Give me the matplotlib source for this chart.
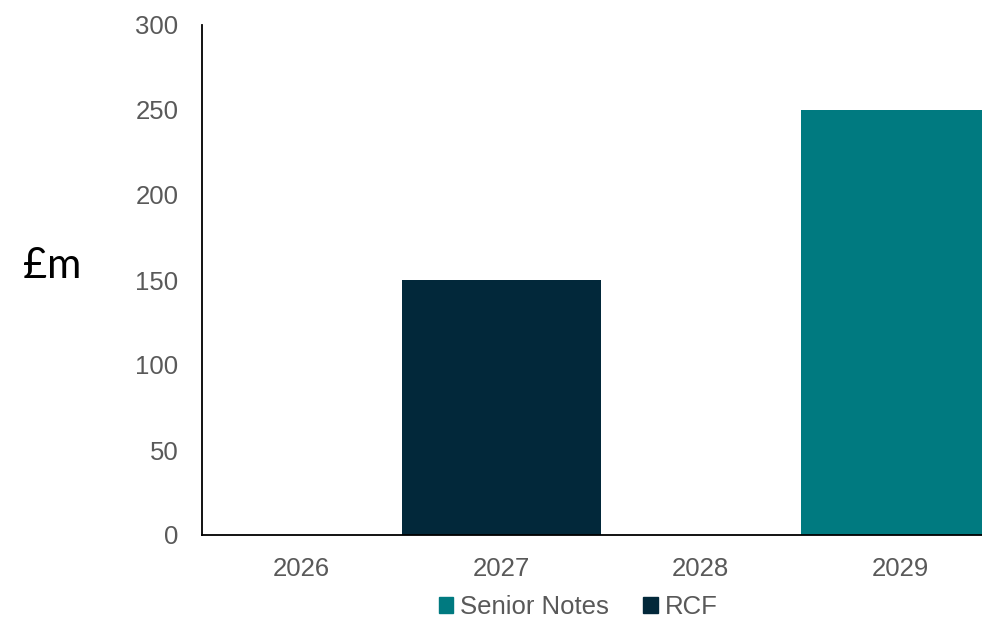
import matplotlib

matplotlib.use("Agg")
import matplotlib.pyplot as plt  # noqa: E402
from matplotlib.patches import Patch  # noqa: E402

years = ["2026", "2027", "2028", "2029"]
senior_notes = [0, 0, 0, 250]
rcf = [0, 150, 0, 0]

TEAL = "#007A80"
NAVY = "#02283A"
GREY = "#595959"

plt.rcParams["font.family"] = ["Liberation Sans", "DejaVu Sans"]

fig = plt.figure(figsize=(9.82, 6.2), dpi=100)
ax = fig.add_axes([202 / 982, 85 / 620, 798 / 982, 510 / 620])

x = range(len(years))
ax.bar(x, senior_notes, width=1.0, color=TEAL, label="Senior Notes")
ax.bar(x, rcf, width=1.0, bottom=senior_notes, color=NAVY, label="RCF")

ax.set_xlim(-0.5, 3.5)
ax.set_ylim(0, 300)
ax.set_yticks(range(0, 301, 50))
ax.set_xticks(list(x))
ax.set_xticklabels(years)
ax.tick_params(axis="both", length=0, labelsize=18.5, labelcolor=GREY)
ax.tick_params(axis="y", pad=17)
ax.tick_params(axis="x", pad=16)
for side in ("top", "right"):
    ax.spines[side].set_visible(False)
for side in ("left", "bottom"):
    ax.spines[side].set_color("black")
    ax.spines[side].set_linewidth(1.3)

fig.text(52 / 982, 1 - 266 / 620, "£m", fontsize=30, family=["Lato", "DejaVu Sans"],
         ha="center", va="center", color="black")

handles = [Patch(color=TEAL, label="Senior Notes"), Patch(color=NAVY, label="RCF")]
fig.legend(handles=handles, loc="center", bbox_to_anchor=(578 / 982, 1 - 607 / 620),
           ncol=2, frameon=False, fontsize=18.5, labelcolor=GREY,
           handlelength=0.55, handleheight=0.55, handletextpad=0.27, columnspacing=1.36)

fig.savefig("out.png", dpi=100)
